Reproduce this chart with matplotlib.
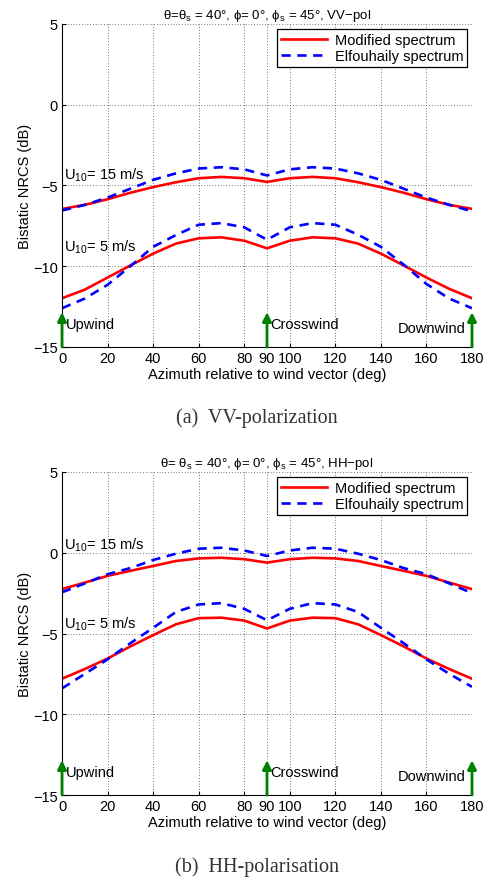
import numpy as np
import matplotlib.pyplot as plt

plt.rcParams['font.family'] = ['Liberation Sans', 'DejaVu Sans']
plt.rcParams['mathtext.fontset'] = 'custom'
plt.rcParams['mathtext.rm'] = 'Liberation Sans'

azimuth = np.arange(0, 181, 10)

# VV-pol
vv_mod_15 = [-6.45, -6.2, -5.85, -5.45, -5.1, -4.8, -4.55, -4.47, -4.55, -4.78,
             -4.55, -4.47, -4.55, -4.8, -5.1, -5.45, -5.85, -6.2, -6.45]
vv_elf_15 = [-6.55, -6.2, -5.75, -5.2, -4.65, -4.25, -3.95, -3.87, -4.0, -4.38,
             -4.0, -3.87, -3.95, -4.25, -4.65, -5.2, -5.75, -6.2, -6.6]
vv_mod_5 = [-11.98, -11.45, -10.7, -9.95, -9.22, -8.6, -8.27, -8.21, -8.42, -8.89,
            -8.42, -8.21, -8.27, -8.6, -9.22, -9.95, -10.7, -11.4, -11.98]
vv_elf_5 = [-12.6, -12.0, -11.15, -10.0, -8.8, -8.07, -7.43, -7.33, -7.59, -8.36,
            -7.59, -7.33, -7.43, -8.05, -8.8, -9.9, -11.1, -12.0, -12.6]

# HH-pol
hh_mod_15 = [-2.25, -1.85, -1.43, -1.12, -0.82, -0.51, -0.35, -0.31, -0.4, -0.61,
             -0.4, -0.31, -0.35, -0.51, -0.82, -1.12, -1.43, -1.85, -2.25]
hh_elf_15 = [-2.45, -1.9, -1.33, -0.95, -0.45, -0.06, 0.25, 0.31, 0.14, -0.2,
             0.14, 0.31, 0.25, -0.06, -0.45, -0.95, -1.33, -1.9, -2.5]
hh_mod_5 = [-7.8, -7.2, -6.55, -5.8, -5.1, -4.43, -4.05, -4.02, -4.2, -4.69,
            -4.2, -4.02, -4.05, -4.43, -5.1, -5.8, -6.55, -7.2, -7.8]
hh_elf_5 = [-8.4, -7.5, -6.6, -5.6, -4.65, -3.67, -3.2, -3.12, -3.47, -4.18,
            -3.47, -3.12, -3.2, -3.67, -4.65, -5.6, -6.6, -7.5, -8.3]

xticks = [0, 20, 40, 60, 80, 90, 100, 120, 140, 160, 180]
yticks = [-15, -10, -5, 0, 5]
ytick_labels = ['\u221215', '\u221210', '\u22125', '0', '5']
wind_dirs = [0, 90, 180]

FS = 10.5


def draw_panel(ax, title, mod15, elf15, mod5, elf5, lab15_y, lab5_y):
    ax.plot(azimuth, mod15, color='red', lw=1.9, label='Modified spectrum')
    ax.plot(azimuth, elf15, color='blue', lw=1.9, ls=(0, (3.5, 2.5)),
            label='Elfouhaily spectrum')
    ax.plot(azimuth, mod5, color='red', lw=1.9)
    ax.plot(azimuth, elf5, color='blue', lw=1.9, ls=(0, (3.5, 2.5)))

    for x in wind_dirs:
        ax.annotate('', xy=(x, -12.85), xytext=(x, -15),
                    arrowprops=dict(arrowstyle='-|>', color='green', lw=2,
                                    mutation_scale=13, shrinkA=0, shrinkB=0),
                    annotation_clip=False)
    ax.text(1.6, -13.55, 'Upwind', fontsize=FS, va='center')
    ax.text(91.6, -13.6, 'Crosswind', fontsize=FS, va='center')
    ax.text(177.2, -13.8, 'Downwind', fontsize=FS, va='center', ha='right')

    ax.text(1.0, lab15_y, 'U$_{10}$= 15 m/s', fontsize=FS, va='center')
    ax.text(1.0, lab5_y, 'U$_{10}$= 5 m/s', fontsize=FS, va='center')

    ax.set_xlim(0, 180)
    ax.set_ylim(-15, 5)
    ax.set_xticks(xticks)
    ax.set_yticks(yticks)
    ax.set_yticklabels(ytick_labels)
    ax.spines['top'].set_visible(False)
    ax.spines['right'].set_visible(False)
    ax.tick_params(labelsize=FS, direction='in', length=3, pad=3)
    ax.grid(True, ls=(0, (1, 3)), color='black', lw=0.5)
    ax.set_xlabel('Azimuth relative to wind vector (deg)', fontsize=FS, labelpad=1)
    ax.set_ylabel('Bistatic NRCS (dB)', fontsize=FS, labelpad=1)
    ax.set_title(title, fontsize=9.5, pad=4)
    leg = ax.legend(loc='upper right', fontsize=FS, fancybox=False,
                    edgecolor='black', framealpha=1, handlelength=3.2,
                    borderpad=0.25, labelspacing=0.15, handletextpad=0.5,
                    borderaxespad=0.35)
    leg.get_frame().set_linewidth(0.9)


fig = plt.figure(figsize=(4.86, 8.79), dpi=100)
ax1 = fig.add_axes([0.1276, 0.6041, 0.8436, 0.3675])
ax2 = fig.add_axes([0.1276, 0.0944, 0.8436, 0.3675])

draw_panel(ax1, '\u03b8=\u03b8$_\\mathrm{s}$ = 40\u00b0, \u03d5= 0\u00b0, \u03d5$_\\mathrm{s}$ = 45\u00b0, VV\u2212pol',
           vv_mod_15, vv_elf_15, vv_mod_5, vv_elf_5, -4.3, -8.75)
draw_panel(ax2, '\u03b8= \u03b8$_\\mathrm{s}$ = 40\u00b0, \u03d5= 0\u00b0, \u03d5$_\\mathrm{s}$ = 45\u00b0, HH\u2212pol',
           hh_mod_15, hh_elf_15, hh_mod_5, hh_elf_5, 0.55, -4.35)

fig.text(0.529, 1 - 418 / 879, '(a)  VV-polarization', family='Liberation Serif',
         fontsize=14.5, ha='center', va='center', color='#333333')
fig.text(0.529, 1 - 867 / 879, '(b)  HH-polarisation', family='Liberation Serif',
         fontsize=14.5, ha='center', va='center', color='#333333')

fig.savefig('out.png', dpi=100)
